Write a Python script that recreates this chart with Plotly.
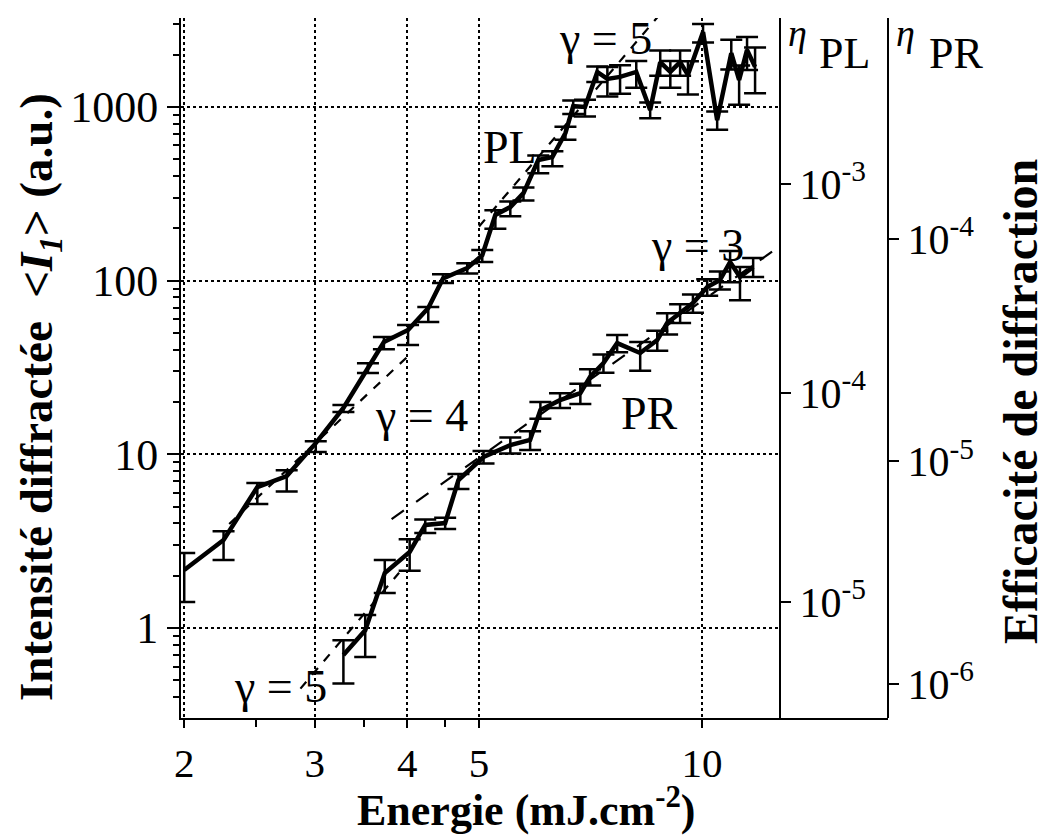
import math
import plotly.graph_objects as go

# ---------------- data ----------------
pl_energy = [2.00, 2.26, 2.51, 2.75, 3.01, 3.28, 3.54, 3.72, 4.01, 4.27, 4.47, 4.82,
             5.05, 5.26, 5.51, 5.74, 6.01, 6.28, 6.54, 6.70, 6.95, 7.22, 7.45, 7.75,
             8.15, 8.51, 8.78, 9.06, 9.34, 9.57, 10.03, 10.48, 10.95, 11.22, 11.50, 11.79]
pl_intensity = [2.16, 3.21, 6.48, 7.50, 11.6, 18.5, 31.4, 44.3, 52.0, 69.5, 103, 118,
                140, 239, 265, 319, 495, 515, 708, 1010, 1000, 1590, 1450, 1490,
                1590, 960, 1810, 1590, 1810, 1530, 2700, 840, 2040, 1430, 2130, 1700]
pl_err_plus = [0.54, 0.40, 0.35, 0.60, 0.30, 0.70, 2.0, 3.0, 3.5, 1.0, 6, 8,
               10, 15, 20, 25, 30, 40, 60, 80, 100, 120, 250, 250,
               250, 100, 300, 250, 300, 300, 300, 100, 400, 300, 400, 500]
pl_err_minus = [0.75, 0.75, 1.30, 1.40, 1.30, 1.00, 2.0, 4.0, 9.4, 11.7, 6, 8,
                12, 40, 30, 30, 80, 60, 60, 100, 120, 200, 300, 300,
                300, 100, 300, 300, 300, 350, 350, 100, 400, 400, 500, 500]

pr_energy = [3.28, 3.51, 3.73, 4.03, 4.23, 4.50, 4.69, 5.07, 5.51, 5.86, 6.05, 6.43,
             6.85, 7.06, 7.36, 7.68, 8.25, 8.70, 8.97, 9.34, 9.72, 10.16, 10.57, 10.91,
             11.25, 11.72]
pr_intensity = [0.70, 0.97, 2.07, 2.74, 3.92, 4.02, 7.11, 9.65, 11.3, 12.1, 18.0, 20.5,
                22.5, 27.9, 33.5, 43.7, 38.3, 45.5, 57.0, 65.1, 74.3, 91.9, 100.8, 128,
                105, 120]
pr_err_plus = [0.15, 0.22, 0.39, 0.50, 0.30, 0.30, 0.60, 0.80, 1.2, 1.5, 2, 2,
               3, 3, 4, 5, 6, 6, 8, 8, 9, 10, 12, 20, 15, 15]
pr_err_minus = [0.22, 0.29, 0.48, 0.60, 0.40, 0.30, 0.80, 0.80, 1.2, 1.5, 2, 2,
                3, 3, 4, 5, 8, 6, 8, 8, 9, 10, 12, 30, 28, 15]

# fitted power laws (end points)
fit_pl4_x = [2.30, 4.00]
fit_pl4_y = [3.97, 36.4]
fit_pl5_x = [5.00, 8.80]
fit_pl5_y = [205, 3470]
fit_pr5_x = [2.87, 3.90]
fit_pr5_y = [0.448, 2.08]
fit_pr3_x = [3.81, 12.74]
fit_pr3_y = [4.24, 158]

x_ticks = [2, 3, 4, 5, 10]
x_minor = [2.5, 3.5, 4.5]
y_ticks = [1, 10, 100, 1000]
y_minor = [0.4, 0.5, 0.6, 0.7, 0.8, 0.9, 2, 3, 4, 5, 6, 7, 8, 9,
           20, 30, 40, 50, 60, 70, 80, 90, 200, 300, 400, 500, 600, 700, 800, 900,
           2000, 3000]
eta_pl_ticks = [1e-3, 1e-4, 1e-5]
eta_pl_text = ["10<sup>-3</sup>", "10<sup>-4</sup>", "10<sup>-5</sup>"]
eta_pr_ticks = [1e-4, 1e-5, 1e-6]
eta_pr_text = ["10<sup>-4</sup>", "10<sup>-5</sup>", "10<sup>-6</sup>"]

# ---------------- layout geometry (page pixels) ----------------
W, H = 1047, 839
OFF = 8                      # default body margin of the html page
L, R, T, B = 181, 888, 18, 718
PL_AXIS = 780


def px(x):
    return (x - L) / (R - L)


def py(y):
    return (B - y) / (B - T)


FONT = "Liberation Serif"
BLACK = "black"

fig = go.Figure()


def err(plus, minus):
    return dict(type="data", symmetric=False, array=plus, arrayminus=minus,
                color=BLACK, thickness=2.5, width=11)


fig.add_trace(go.Scatter(x=pl_energy, y=pl_intensity, mode="lines",
                         line=dict(color=BLACK, width=4.5),
                         error_y=err(pl_err_plus, pl_err_minus), showlegend=False))
fig.add_trace(go.Scatter(x=pr_energy, y=pr_intensity, mode="lines",
                         line=dict(color=BLACK, width=4.5),
                         error_y=err(pr_err_plus, pr_err_minus), showlegend=False))

for fx, fy, dash in [(fit_pl4_x, fit_pl4_y, "dash"), (fit_pl5_x, fit_pl5_y, "dash"),
                     (fit_pr5_x, fit_pr5_y, "dash"), (fit_pr3_x, fit_pr3_y, "longdash")]:
    fig.add_trace(go.Scatter(x=fx, y=fy, mode="lines",
                             line=dict(color=BLACK, width=2.2, dash=dash),
                             showlegend=False))

# invisible traces to activate the efficiency axes
fig.add_trace(go.Scatter(x=[pl_energy[0]], y=[eta_pl_ticks[0]], yaxis="y2", mode="markers",
                         marker=dict(opacity=0), showlegend=False, hoverinfo="skip"))
fig.add_trace(go.Scatter(x=[pl_energy[0]], y=[eta_pr_ticks[0]], yaxis="y3", mode="markers",
                         marker=dict(opacity=0), showlegend=False, hoverinfo="skip"))

axis_common = dict(showline=True, linecolor=BLACK, linewidth=2, ticks="outside",
                   tickcolor=BLACK, tickwidth=2, zeroline=False, automargin=False,
                   tickfont=dict(family=FONT, size=44, color=BLACK))
right_font = dict(family=FONT, size=42, color=BLACK)
bottom_font = dict(family=FONT, size=41, color=BLACK)

fig.update_layout(
    width=W - OFF, height=H - OFF,
    margin=dict(l=L - OFF, r=W - R, t=T - OFF, b=H - B, pad=0, autoexpand=False),
    paper_bgcolor="white", plot_bgcolor="white",
    font=dict(family=FONT, color=BLACK),
    xaxis=dict(type="log", range=[math.log10(1.98), math.log10(12.74)],
               domain=[0, px(PL_AXIS)], tickvals=x_ticks,
               ticktext=[str(v) for v in x_ticks], ticklen=8,
               showgrid=True, gridcolor=BLACK, gridwidth=2, griddash="dot",
               minor=dict(tickvals=x_minor, ticks="outside", ticklen=7,
                          tickwidth=2, tickcolor=BLACK, showgrid=False),
               **{**axis_common, "tickfont": bottom_font}),
    yaxis=dict(type="log", range=[-0.518, 3.512], tickvals=y_ticks,
               ticktext=[str(v) for v in y_ticks], ticklen=12,
               showgrid=True, gridcolor=BLACK, gridwidth=2, griddash="dot",
               minor=dict(tickvals=y_minor, ticks="outside", ticklen=6,
                          tickwidth=1.5, tickcolor=BLACK, showgrid=False),
               **axis_common),
    yaxis2=dict(type="log", overlaying="y", side="right", anchor="free",
                position=px(PL_AXIS), range=[-5.555, -2.206],
                tickvals=eta_pl_ticks, ticktext=eta_pl_text, ticklen=10,
                showgrid=False, **{**axis_common, "tickfont": right_font}),
    yaxis3=dict(type="log", overlaying="y", side="right", anchor="free",
                position=1.0, range=[-6.153, -3.007],
                tickvals=eta_pr_ticks, ticktext=eta_pr_text, ticklen=10,
                showgrid=False, **{**axis_common, "tickfont": right_font}),
)

# bottom line of the PR efficiency panel
fig.add_shape(type="line", xref="paper", yref="paper", x0=px(PL_AXIS), x1=1.0,
              y0=py(B + 1), y1=py(B + 1), line=dict(color=BLACK, width=2))

annotations = [
    # (text, x px, y px, size, angle)
    ("<b>Intensité diffractée  &lt;<i>I<sub>1</sub></i>&gt; (a.u.)</b>", 40, 397, 47, -90),
    ("<b>Energie (mJ.cm<sup>-2</sup>)</b>", 526, 807, 44, 0),
    ("<b>Efficacité de diffraction</b>", 1020, 402, 48, -90),
    ("γ = 5", 605, 38, 46, 0),
    ("PL", 510, 147, 46, 0),
    ("γ = 4", 421, 415, 46, 0),
    ("PR", 649, 413, 46, 0),
    ("γ = 3", 697, 245, 46, 0),
    ("γ = 5", 280, 686, 46, 0),
    ("<i>η</i>", 797, 33, 38, 0),
    ("PL", 844, 53, 44, 0),
    ("<i>η</i>", 905, 33, 38, 0),
    ("PR", 956, 53, 44, 0),
]
for text, x, y, size, ang in annotations:
    fig.add_annotation(text=text, xref="paper", yref="paper", x=px(x), y=py(y),
                       xanchor="center", yanchor="middle", showarrow=False,
                       textangle=ang, font=dict(family=FONT, size=size, color=BLACK))

fig.write_html("out.html")
